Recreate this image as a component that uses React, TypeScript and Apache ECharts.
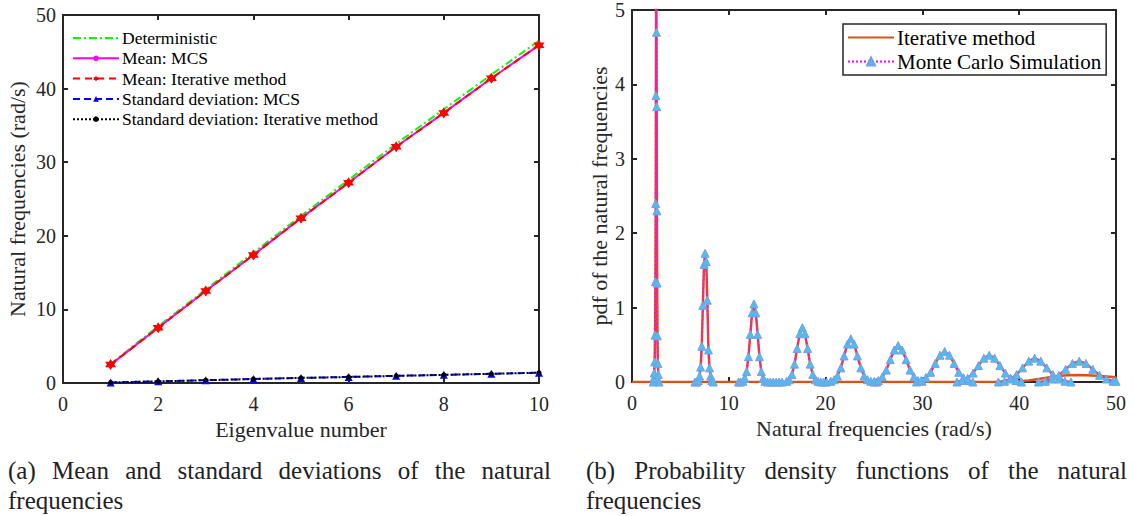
import React, { useEffect, useRef } from "react";
import * as echarts from "echarts";

// ---------- Left panel data ----------
const eigenNumbers = [1, 2, 3, 4, 5, 6, 7, 8, 9, 10];
const deterministic = [2.6, 7.7, 12.7, 17.7, 22.7, 27.6, 32.5, 37.2, 41.9, 46.5];
const meanMCS = [2.5, 7.5, 12.5, 17.4, 22.4, 27.2, 32.1, 36.7, 41.4, 45.9];
const meanIterative = [2.5, 7.5, 12.5, 17.4, 22.4, 27.2, 32.1, 36.7, 41.4, 45.9];
const stdMCS = [0.08, 0.23, 0.38, 0.54, 0.69, 0.82, 0.97, 1.11, 1.25, 1.4];
const stdIterative = [0.08, 0.23, 0.38, 0.54, 0.69, 0.82, 0.97, 1.11, 1.25, 1.4];
const leftXTicks = [0, 2, 4, 6, 8, 10];
const leftYTicks = [0, 10, 20, 30, 40, 50];

// ---------- Right panel data (pdf peaks, [frequency, pdf]) ----------
const peak1 = [[2.2, 0], [2.26, 0.05], [2.3, 0.12], [2.34, 0.27], [2.38, 0.63], [2.42, 1.35], [2.45, 2.4], [2.47, 3.85], [2.5, 5.4], [2.53, 4.7], [2.55, 3.7], [2.57, 2.3], [2.6, 1.33], [2.63, 0.62], [2.67, 0.25], [2.72, 0.1], [2.8, 0]];
const peak2 = [[6.5, 0], [6.7, 0], [6.86, 0.02], [6.98, 0.08], [7.09, 0.2], [7.21, 0.48], [7.32, 1.03], [7.44, 1.58], [7.55, 1.73], [7.67, 1.62], [7.78, 1.1], [7.9, 0.43], [8.01, 0.19], [8.13, 0.08], [8.24, 0.02], [8.4, 0]];
const peak3 = [[11.0, 0], [11.2, 0], [11.46, 0.01], [11.65, 0.05], [11.84, 0.14], [12.03, 0.34], [12.22, 0.64], [12.41, 0.93], [12.6, 1.05], [12.79, 0.93], [12.98, 0.64], [13.17, 0.34], [13.36, 0.14], [13.55, 0.05], [13.74, 0.01], [14.0, 0], [14.3, 0], [14.6, 0], [14.9, 0], [15.2, 0], [15.5, 0]];
const peak4 = [[15.98, 0.01], [16.25, 0.03], [16.52, 0.1], [16.79, 0.24], [17.06, 0.45], [17.33, 0.65], [17.6, 0.73], [17.87, 0.65], [18.14, 0.45], [18.41, 0.24], [18.68, 0.1], [18.95, 0.03], [19.22, 0.01], [19.5, 0], [19.8, 0], [20.1, 0]];
const peak5 = [[20.53, 0.01], [20.88, 0.03], [21.22, 0.08], [21.57, 0.19], [21.91, 0.35], [22.26, 0.51], [22.6, 0.58], [22.95, 0.51], [23.29, 0.35], [23.64, 0.19], [23.98, 0.08], [24.33, 0.03], [24.67, 0.01], [25.0, 0], [25.3, 0]];
const peak6 = [[25.04, 0.01], [25.45, 0.02], [25.86, 0.07], [26.27, 0.16], [26.68, 0.3], [27.09, 0.43], [27.5, 0.49], [27.91, 0.43], [28.32, 0.3], [28.73, 0.16], [29.14, 0.07], [29.55, 0.02], [29.96, 0.01]];
const peak7 = [[29.39, 0], [29.88, 0.02], [30.36, 0.06], [30.85, 0.13], [31.33, 0.25], [31.82, 0.36], [32.3, 0.41], [32.79, 0.36], [33.27, 0.25], [33.76, 0.13], [34.24, 0.06], [34.73, 0.02], [35.21, 0]];
const peak8 = [[33.57, 0], [34.13, 0.02], [34.68, 0.05], [35.24, 0.12], [35.79, 0.22], [36.35, 0.32], [36.9, 0.36], [37.46, 0.32], [38.01, 0.22], [38.57, 0.12], [39.12, 0.05], [39.68, 0.02], [40.23, 0]];
const peak9 = [[37.85, 0], [38.48, 0.01], [39.1, 0.04], [39.73, 0.1], [40.35, 0.19], [40.98, 0.28], [41.6, 0.32], [42.23, 0.28], [42.85, 0.19], [43.48, 0.1], [44.1, 0.04], [44.73, 0.01], [45.35, 0]];
const peak10 = [[42.0, 0], [42.7, 0.01], [43.4, 0.04], [44.1, 0.09], [44.8, 0.17], [45.5, 0.25], [46.2, 0.28], [46.9, 0.25], [47.6, 0.17], [48.3, 0.09], [49.0, 0.04], [49.7, 0.01], [50.0, 0.01]];
const peaks = [peak1, peak2, peak3, peak4, peak5, peak6, peak7, peak8, peak9, peak10];
const iterativeBaseline = [[0, 0], [39, 0], [40, 0.01], [41, 0.02], [42, 0.04], [43, 0.06], [44, 0.08], [45, 0.09], [46, 0.095], [47, 0.09], [48, 0.085], [49, 0.075], [50, 0.065]];
const rightXTicks = [0, 10, 20, 30, 40, 50];
const rightYTicks = [0, 1, 2, 3, 4, 5];

const captionA = ["(a) Mean and standard deviations of the natural", "frequencies"];
const captionB = ["(b) Probability density functions of the natural", "frequencies"];

const FONT = "'Liberation Serif', 'Times New Roman', serif";
const AX = "#262626";
const STAR = "path://M0,-10 L2.9,-5 L8.66,-5 L5.8,0 L8.66,5 L2.9,5 L0,10 L-2.9,5 L-8.66,5 L-5.8,0 L-8.66,-5 L-2.9,-5 Z";

function axisPair(kind: "x" | "y", grid: number, ticks: number[], name: string, nameGap: number) {
  const min = ticks[0];
  const max = ticks[ticks.length - 1];
  const interval = ticks[1] - ticks[0];
  const base = {
    type: "value",
    gridIndex: grid,
    min,
    max,
    interval,
    splitLine: { show: false },
    axisLine: { show: true, onZero: false, lineStyle: { color: AX, width: 2 } },
    axisTick: { show: true, inside: true, length: 5, lineStyle: { color: AX, width: 2 } },
  };
  const main = {
    ...base,
    position: kind === "x" ? "bottom" : "left",
    name,
    nameLocation: "middle",
    nameGap,
    nameTextStyle: { fontFamily: FONT, fontSize: 22, color: AX },
    axisLabel: { show: true, fontFamily: FONT, fontSize: 20, color: AX, margin: kind === "x" ? 11 : 7 },
  };
  const mirror = {
    ...base,
    position: kind === "x" ? "top" : "right",
    axisLabel: { show: false },
  };
  return [main, mirror];
}

// Justify one caption line across a given width by distributing word gaps.
function justifiedLine(text: string, x: number, y: number, width: number, fontSize: number, justify: boolean) {
  const ctx = document.createElement("canvas").getContext("2d") as CanvasRenderingContext2D;
  ctx.font = `${fontSize}px ${FONT}`;
  const words = text.split(" ");
  const widths = words.map((w) => ctx.measureText(w).width);
  const total = widths.reduce((a, b) => a + b, 0);
  const gap = justify && words.length > 1 ? (width - total) / (words.length - 1) : ctx.measureText(" ").width;
  const els: any[] = [];
  let cx = x;
  words.forEach((w, i) => {
    els.push({
      type: "text",
      x: cx,
      y,
      style: { text: w, fontFamily: FONT, fontSize, fill: "#222", textVerticalAlign: "middle" },
    });
    cx += widths[i] + gap;
  });
  return els;
}

export default function App() {
  const ref = useRef<HTMLDivElement>(null);
  useEffect(() => {
    if (!ref.current) return;
    const chart = echarts.init(ref.current, null, { renderer: "svg" });

    const xAxes = [
      ...axisPair("x", 0, leftXTicks, "Eigenvalue number", 35),
      ...axisPair("x", 1, rightXTicks, "Natural frequencies (rad/s)", 35),
    ];
    const yAxes = [
      ...axisPair("y", 0, leftYTicks, "Natural frequencies (rad/s)", 35),
      ...axisPair("y", 1, rightYTicks, "pdf of the natural frequencies", 22),
    ];

    const pairs = (ys: number[]) => eigenNumbers.map((x, i) => [x, ys[i]]);

    const series: any[] = [
      {
        name: "Deterministic", type: "line", xAxisIndex: 0, yAxisIndex: 0,
        data: pairs(deterministic), symbol: "none",
        lineStyle: { color: "#00FF00", width: 2, type: [8, 3, 2, 3] }, itemStyle: { color: "#00FF00" },
      },
      {
        name: "Mean: MCS", type: "line", xAxisIndex: 0, yAxisIndex: 0,
        data: pairs(meanMCS), symbol: "circle", symbolSize: 4,
        lineStyle: { color: "#FF00FF", width: 2 }, itemStyle: { color: "#FF00FF" },
      },
      {
        name: "Mean: Iterative method", type: "line", xAxisIndex: 0, yAxisIndex: 0,
        data: pairs(meanIterative), symbol: STAR, symbolSize: 11,
        lineStyle: { color: "#FF0000", width: 2, type: [7, 5] }, itemStyle: { color: "#FF0000" },
      },
      {
        name: "Standard deviation: MCS", type: "line", xAxisIndex: 0, yAxisIndex: 0,
        data: pairs(stdMCS), symbol: "triangle", symbolSize: 8,
        lineStyle: { color: "#0000FF", width: 2, type: [7, 4] }, itemStyle: { color: "#0000FF" },
      },
      {
        name: "Standard deviation: Iterative method", type: "line", xAxisIndex: 0, yAxisIndex: 0,
        data: pairs(stdIterative), symbol: "circle", symbolSize: 5,
        lineStyle: { color: "#000000", width: 2, type: [2, 2] }, itemStyle: { color: "#000000" },
      },
      {
        name: "Iterative method", type: "line", xAxisIndex: 2, yAxisIndex: 2,
        data: iterativeBaseline, symbol: "none", z: 2,
        lineStyle: { color: "#D95319", width: 2.5 }, itemStyle: { color: "#D95319" },
      },
    ];
    peaks.forEach((p) => {
      series.push({
        name: "Iterative method", type: "line", xAxisIndex: 2, yAxisIndex: 2,
        data: p, symbol: "none", z: 2,
        lineStyle: { color: "#D95319", width: 2.5 }, itemStyle: { color: "#D95319" },
      });
    });
    peaks.forEach((p) => {
      series.push({
        name: "Monte Carlo Simulation", type: "line", xAxisIndex: 2, yAxisIndex: 2,
        data: p, symbol: "triangle", symbolSize: 8, z: 3,
        lineStyle: { color: "#FF00FF", width: 1.5, type: [2, 2] },
        itemStyle: { color: "#4DBEEE", borderColor: "#7B9CE8", borderWidth: 1 },
      });
    });

    const capSize = 25;
    const graphic = [
      ...justifiedLine(captionA[0], 8, 470, 543, capSize, true),
      ...justifiedLine(captionA[1], 8, 500, 543, capSize, false),
      ...justifiedLine(captionB[0], 586, 470, 541, capSize, true),
      ...justifiedLine(captionB[1], 586, 500, 541, capSize, false),
    ];

    chart.setOption({
      animation: false,
      backgroundColor: "#ffffff",
      grid: [
        { left: 63, top: 15, width: 476, height: 368, show: false },
        { left: 632, top: 8, width: 484, height: 374, show: false },
      ],
      xAxis: xAxes,
      yAxis: yAxes,
      legend: [
        {
          data: [
            { name: "Deterministic", itemStyle: { opacity: 0 } },
            "Mean: MCS",
            "Mean: Iterative method",
            "Standard deviation: MCS",
            "Standard deviation: Iterative method",
          ],
          orient: "vertical", left: 72, top: 29, itemWidth: 46, itemHeight: 7, itemGap: 2.3,
          textStyle: { fontFamily: FONT, fontSize: 17.5, color: "#000", lineHeight: 17, padding: [0, 0, 0, -2] },
          padding: 0,
          selectedMode: false,
        },
        {
          data: [
            { name: "Iterative method", itemStyle: { opacity: 0 } },
            "Monte Carlo Simulation",
          ],
          orient: "vertical", left: 843, top: 24, itemWidth: 46, itemHeight: 10, itemGap: 3,
          textStyle: { fontFamily: FONT, fontSize: 21, color: "#000", lineHeight: 20, padding: [0, 0, 0, -2] },
          padding: [3, 5, 3, 4], borderColor: AX, borderWidth: 1.5, backgroundColor: "#fff",
          selectedMode: false,
        },
      ],
      graphic,
      series,
    });
    return () => chart.dispose();
  }, []);
  return <div ref={ref} style={{ position: "fixed", left: 0, top: 0, width: 1134, height: 516 }} />;
}
